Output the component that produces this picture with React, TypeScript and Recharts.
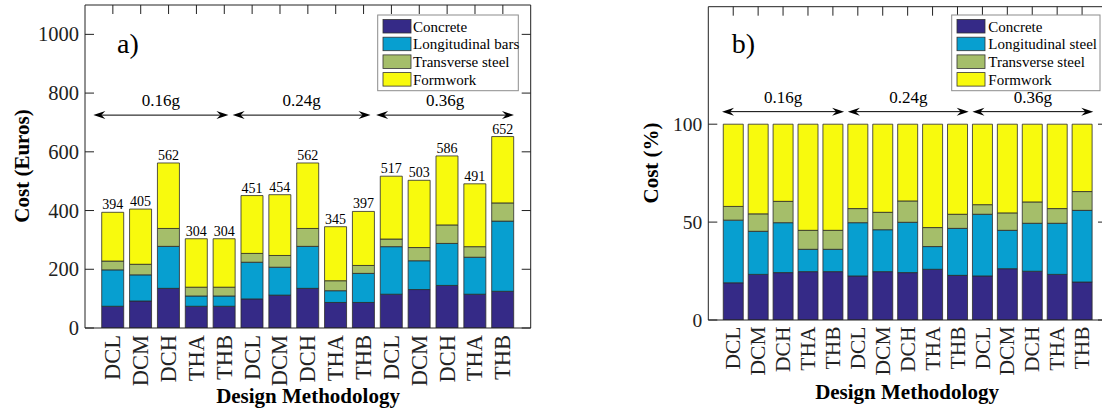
import React from 'react'
import { BarChart, Bar, XAxis, YAxis, LabelList, ReferenceLine } from 'recharts'

const methods = ['DCL', 'DCM', 'DCH', 'THA', 'THB']
const pgaLevels = ['0.16g', '0.24g', '0.36g']

// a) cost in euros, per member (read off the stacked bars)
const concreteCost = [74, 92, 135, 74, 74, 99, 112, 135, 87, 87, 115, 131, 145, 115, 125]
const longBarsCost = [124, 89, 143, 35, 35, 125, 95, 143, 40, 99, 162, 98, 143, 126, 239]
const transverseCost = [30, 36, 61, 30, 30, 30, 40, 61, 34, 27, 26, 45, 63, 36, 62]
const formworkCost = [166, 188, 223, 165, 165, 197, 207, 223, 184, 184, 214, 229, 235, 214, 226]
const totalCost = [394, 405, 562, 304, 304, 451, 454, 562, 345, 397, 517, 503, 586, 491, 652]

// b) share of the total cost, %
const concretePct = [19, 23.3, 24.2, 24.7, 24.7, 22.5, 24.7, 24.2, 25.9, 22.8, 22.5, 26.2, 24.9, 23.3, 19.4]
const longSteelPct = [32, 22, 25.5, 11.4, 11.4, 27.2, 21.4, 25.7, 11.6, 24, 31.5, 19.6, 24.5, 26.1, 36.6]
const transSteelPct = [7, 8.9, 10.9, 9.7, 9.7, 7.2, 8.9, 10.9, 9.7, 7.2, 4.9, 8.9, 10.9, 7.5, 9.6]
const formworkPct = [42, 45.8, 39.4, 54.2, 54.2, 43.1, 45, 39.2, 52.8, 46, 41.1, 45.3, 39.7, 43.1, 34.4]

const costTicks = [0, 200, 400, 600, 800, 1000]
const pctTicks = [0, 50, 100]

// arrow spans in bar-position units (bars sit at 1..15)
const costArrows = [[0.3, 5.15], [5.3, 10.25], [10.45, 15.4]]
const pctArrows = [[0.55, 5.45], [5.6, 10.45], [10.6, 15.45]]

const legendA = ['Concrete', 'Longitudinal bars', 'Transverse steel', 'Formwork']
const legendB = ['Concrete', 'Longitudinal steel', 'Transverse steel', 'Formwork']

const COLORS = ['#352a87', '#079fd0', '#a5be6a', '#f8fa0d']
const SERIF = '"Liberation Serif", "Times New Roman", serif'
const INK = '#222'

const cats = pgaLevels.flatMap((g) => methods.map((m) => ({ g, m })))

const costData = cats.map((c, i) => ({
  key: `${c.g} ${c.m}`,
  pos: i + 1,
  s0: concreteCost[i],
  s1: longBarsCost[i],
  s2: transverseCost[i],
  s3: formworkCost[i],
  total: totalCost[i],
}))

const pctData = cats.map((c, i) => ({
  key: `${c.g} ${c.m}`,
  pos: i + 1,
  s0: concretePct[i],
  s1: longSteelPct[i],
  s2: transSteelPct[i],
  s3: formworkPct[i],
}))

const methodOf = (key: string) => key.split(' ')[1]

const leftTick = (fs: number) => (p: any) => (
  <g>
    <line x1={p.x} x2={p.x + 9} y1={p.y} y2={p.y} stroke={INK} />
    <text x={p.x - 6} y={p.y} textAnchor="end" dominantBaseline="central" fontSize={fs} fill={INK} fontFamily={SERIF}>
      {p.payload.value}
    </text>
  </g>
)

const rightTick = (p: any) => <line x1={p.x} x2={p.x - 9} y1={p.y} y2={p.y} stroke={INK} />

const topTick = (p: any) => <line x1={p.x} x2={p.x} y1={p.y} y2={p.y + 9} stroke={INK} />

const bottomTick = (fs: number, gap: number) => (p: any) => (
  <text
    transform={`translate(${p.x + fs * 0.33},${p.y + gap}) rotate(-90)`}
    textAnchor="end"
    fontSize={fs}
    fill={INK}
    fontFamily={SERIF}
  >
    {methodOf(p.payload.value)}
  </text>
)

const arrowShape = (label: string, fs: number) => (p: any) => {
  const { x1, x2, y1 } = p
  return (
    <g>
      <line x1={x1 + 4} x2={x2 - 4} y1={y1} y2={y1} stroke="#000" />
      <path d={`M${x1},${y1} l12,-4 l-4,4 l4,4 z`} fill="#000" />
      <path d={`M${x2},${y1} l-12,-4 l4,4 l-4,4 z`} fill="#000" />
      <text x={(x1 + x2) / 2} y={y1 - 9} textAnchor="middle" fontSize={fs} fill="#000" fontFamily={SERIF}>
        {label}
      </text>
    </g>
  )
}

interface PanelProps {
  data: any[]
  width: number
  plot: { top: number; right: number; bottom: number; left: number }
  domain: [number, number]
  ticks: number[]
  arrows: number[][]
  arrowY: number
  yFont: number
  xFont: number
  xGap: number
  totals?: boolean
}

function StackPanel({ data, width, plot, domain, ticks, arrows, arrowY, yFont, xFont, xGap, totals }: PanelProps) {
  const plotW = width - plot.left - plot.right
  const pad = plotW / 32
  // axes are 1px thick, so the margins give way by 1px on each side
  const margin = { top: plot.top - 1, right: plot.right - 1, bottom: plot.bottom - 1, left: plot.left - 1 }
  return (
    <BarChart width={width} height={414} data={data} margin={margin} barCategoryGap="10%">
      <XAxis
        xAxisId="cat"
        dataKey="key"
        height={1}
        interval={0}
        padding={{ left: pad, right: pad }}
        axisLine={{ stroke: INK }}
        tickLine={false}
        tickSize={0}
        tickMargin={0}
        tick={bottomTick(xFont, xGap)}
      />
      <XAxis
        xAxisId="top"
        orientation="top"
        dataKey="key"
        height={1}
        interval={0}
        padding={{ left: pad, right: pad }}
        axisLine={{ stroke: INK }}
        tickLine={false}
        tickSize={0}
        tickMargin={0}
        tick={topTick}
      />
      <XAxis xAxisId="num" type="number" dataKey="pos" domain={[0, 16]} hide />
      <YAxis
        yAxisId="left"
        width={1}
        domain={domain}
        ticks={ticks}
        allowDataOverflow
        axisLine={{ stroke: INK }}
        tickLine={false}
        tickSize={0}
        tickMargin={0}
        tick={leftTick(yFont)}
      />
      <YAxis
        yAxisId="right"
        orientation="right"
        width={1}
        domain={domain}
        ticks={ticks}
        allowDataOverflow
        axisLine={{ stroke: INK }}
        tickLine={false}
        tickSize={0}
        tickMargin={0}
        tick={rightTick}
      />
      {['s0', 's1', 's2', 's3'].map((k, i) => (
        <Bar
          key={k}
          dataKey={k}
          stackId="a"
          xAxisId="cat"
          yAxisId="left"
          fill={COLORS[i]}
          stroke="#2b2b2b"
          strokeWidth={0.8}
          isAnimationActive={false}
        >
          {totals && i === 3 && (
            <LabelList dataKey="total" position="top" offset={3} fontSize={14} fill="#000" fontFamily={SERIF} />
          )}
        </Bar>
      ))}
      {arrows.map(([a, b], i) => (
        <ReferenceLine
          key={pgaLevels[i]}
          xAxisId="num"
          yAxisId="left"
          segment={[{ x: a, y: arrowY }, { x: b, y: arrowY }]}
          shape={arrowShape(pgaLevels[i], 17)}
        />
      ))}
    </BarChart>
  )
}

function LegendBox({ x, y, w, names, textDx }: { x: number; y: number; w: number; names: string[]; textDx: number }) {
  return (
    <g>
      <rect x={x} y={y} width={w} height={75.7} fill="#fff" stroke="#8c8c8c" />
      {names.map((n, i) => (
        <g key={n}>
          <rect x={x + 5.3} y={y + 4.5 + i * 17.7} width={28} height={13.5} fill={COLORS[i]} stroke="#333" strokeWidth={0.8} />
          <text x={x + textDx} y={y + 11.5 + i * 17.7} dominantBaseline="central" fontSize={15} fill="#000" fontFamily={SERIF}>
            {n}
          </text>
        </g>
      ))}
    </g>
  )
}

export default function App() {
  return (
    <div style={{ position: 'fixed', left: 0, top: 0, width: 1102, height: 414, overflow: 'hidden', background: '#fff' }}>
      <div style={{ position: 'absolute', left: 0, top: 0 }}>
        <StackPanel
          data={costData}
          width={560}
          plot={{ top: 5, right: 29.3, bottom: 86, left: 85 }}
          domain={[0, 1100]}
          ticks={costTicks}
          arrows={costArrows}
          arrowY={725}
          yFont={20.5}
          xFont={22.5}
          xGap={7}
          totals
        />
      </div>
      <div style={{ position: 'absolute', left: 580, top: 0 }}>
        <StackPanel
          data={pctData}
          width={560}
          plot={{ top: 6.7, right: 33, bottom: 94, left: 128.3 }}
          domain={[0, 160]}
          ticks={pctTicks}
          arrows={pctArrows}
          arrowY={106.4}
          yFont={19.5}
          xFont={21.5}
          xGap={6.5}
        />
      </div>
      <svg width={1102} height={414} style={{ position: 'absolute', left: 0, top: 0, pointerEvents: 'none' }}>
        <LegendBox x={377.7} y={15} w={140.6} names={legendA} textDx={35.3} />
        <LegendBox x={951.7} y={15} w={148.3} names={legendB} textDx={36.6} />
        <text x={117} y={53} fontSize={28} fill="#000" fontFamily={SERIF}>a)</text>
        <text x={731.7} y={53} fontSize={28} fill="#000" fontFamily={SERIF}>b)</text>
        <text transform="translate(22,166) rotate(-90)" textAnchor="middle" dominantBaseline="central" fontSize={21} fontWeight="bold" fill="#000" fontFamily={SERIF}>
          Cost (Euros)
        </text>
        <text transform="translate(651,163) rotate(-90)" textAnchor="middle" dominantBaseline="central" fontSize={21} fontWeight="bold" fill="#000" fontFamily={SERIF}>
          Cost (%)
        </text>
        <text x={308} y={403} textAnchor="middle" fontSize={21} fontWeight="bold" fill="#000" fontFamily={SERIF}>
          Design Methodology
        </text>
        <text x={907} y={399} textAnchor="middle" fontSize={21} fontWeight="bold" fill="#000" fontFamily={SERIF}>
          Design Methodology
        </text>
      </svg>
    </div>
  )
}
